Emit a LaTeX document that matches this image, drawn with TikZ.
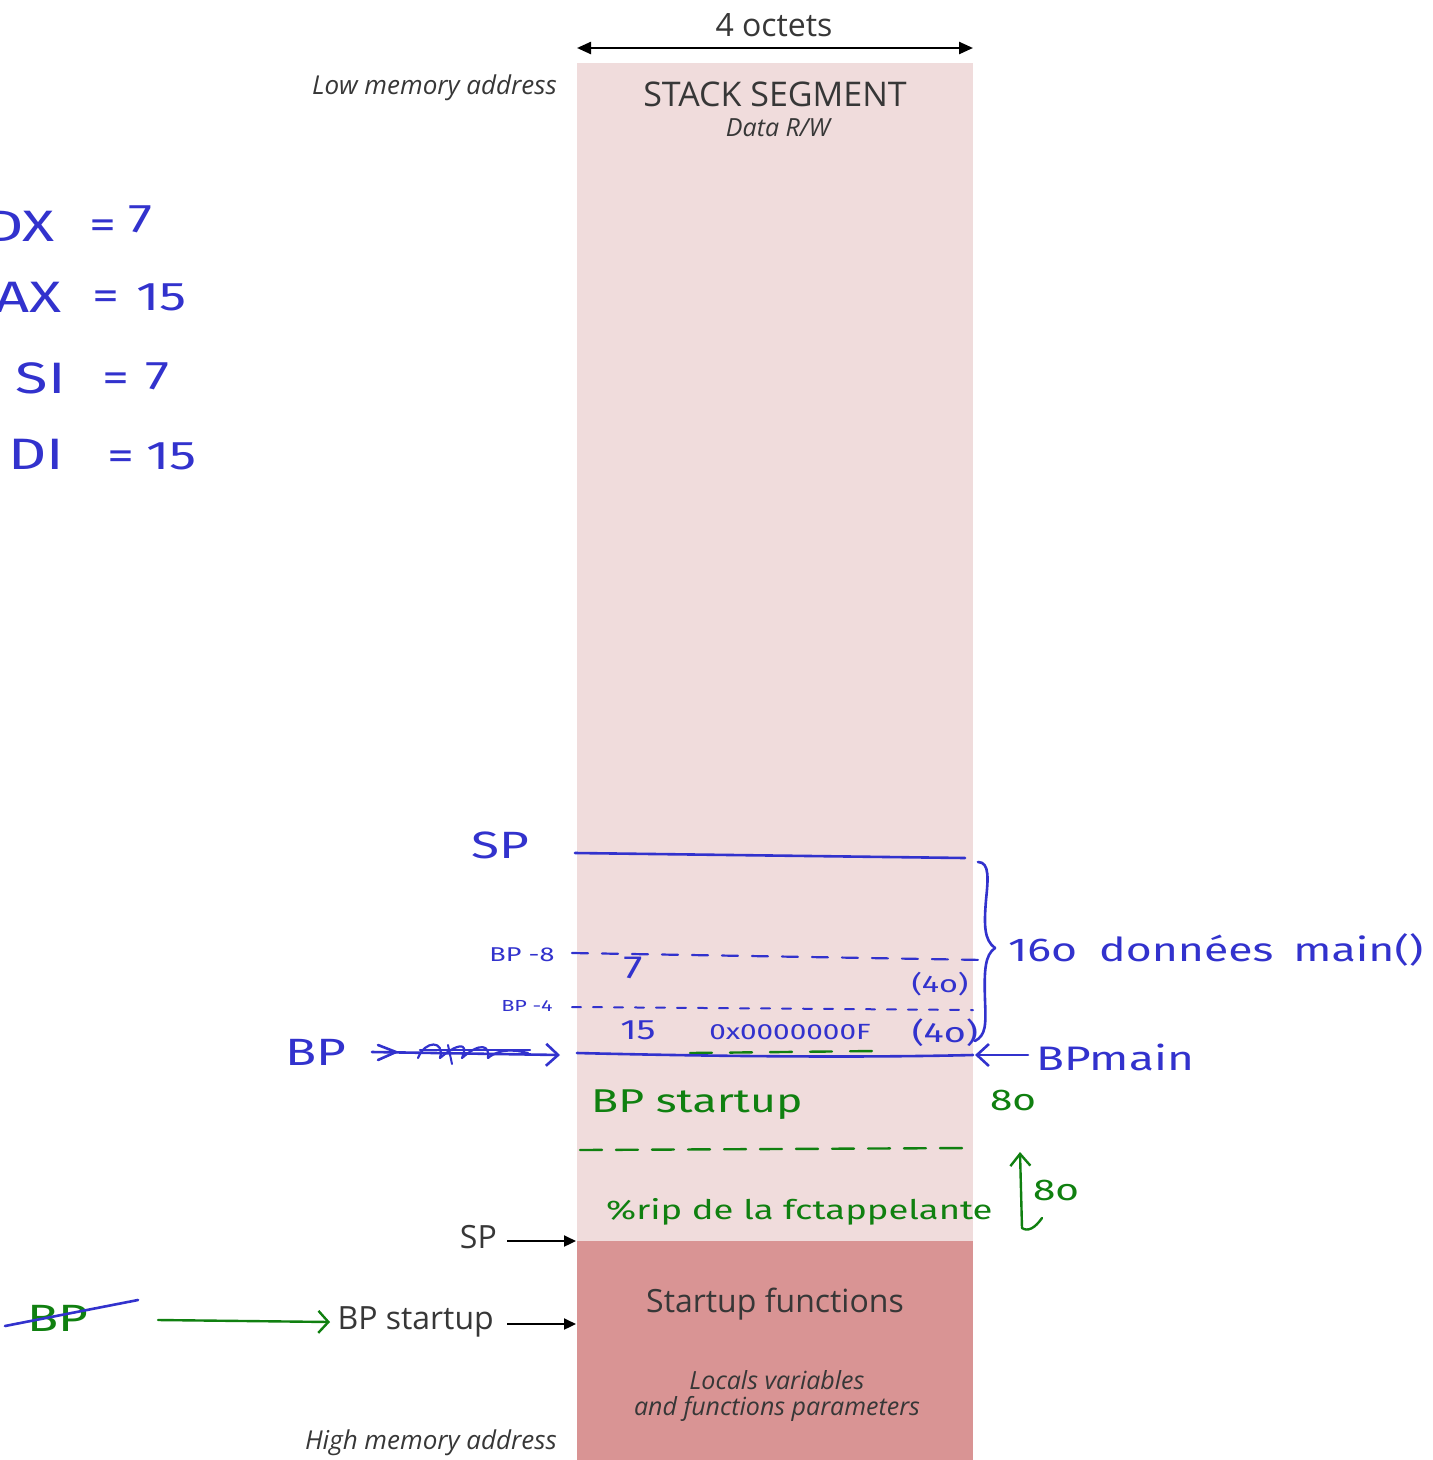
\documentclass[tikz,border=0pt]{standalone}
\usepackage{fontspec}
\setmainfont{Open Sans}
\newfontfamily\hand[FakeStretch=1.35]{Fira Sans}
\usetikzlibrary{arrows.meta}
\definecolor{stackpink}{RGB}{240,220,220}
\definecolor{startpink}{RGB}{217,148,148}
\definecolor{txtgray}{RGB}{55,55,55}
\definecolor{inkblue}{RGB}{50,50,205}
\definecolor{inkgreen}{RGB}{16,128,16}
\begin{document}
\begin{tikzpicture}[x=1pt,y=-1pt,
  prt/.style={text=txtgray, inner sep=0pt, font=\fontsize{#1pt}{#1pt}\selectfont},
  prti/.style={text=txtgray, inner sep=0pt, font=\fontsize{#1pt}{#1pt}\selectfont\itshape},
  hb/.style={text=inkblue, inner sep=0pt, font=\hand\fontsize{#1pt}{#1pt}\selectfont},
  hg/.style={text=inkgreen, inner sep=0pt, font=\hand\fontsize{#1pt}{#1pt}\selectfont},
  blk/.style={draw=black, line width=2.2pt, -{Triangle[length=12pt,width=11pt]}},
  inkb/.style={draw=inkblue, line width=2.6pt, line cap=round, line join=round},
  inkg/.style={draw=inkgreen, line width=2.4pt, line cap=round, line join=round},
]
\useasboundingbox (0,0) rectangle (1433,1460);
\fill[white] (0,0) rectangle (1433,1460);
\begin{scope}
\clip (0,0) rectangle (1433,1460);

% stack column
\fill[stackpink] (577,63) rectangle (973,1241);
\fill[startpink] (577,1241) rectangle (973,1460);

% top width arrow
\coordinate (wl) at (577,48);
\coordinate (wr) at (973,48);
\draw[line width=2.4pt, {Triangle[length=14pt,width=12pt]}-{Triangle[length=14pt,width=12pt]}] (wl) -- (wr);
\node[prt=32] (oct) at (774,25) {4 octets};

\node[prti=26, anchor=east] (low) at (557,88) {Low memory address};
\node[prt=34] (seg) at (775,94) {STACK SEGMENT};
\node[prti=25] (rw) at (778,128) {Data R/W};

\node[prt=32] (sfun) at (775,1304) {Startup functions};
\node[prti=25] (loc1) at (777,1380) {Locals variables};
\node[prti=25] (loc2) at (777,1409) {and functions parameters};
\node[prti=26, anchor=east] (high) at (557,1443) {High memory address};

% SP and BP startup printed arrows
\node[prt=32, anchor=east] (sp) at (497,1237) {SP};
\coordinate (spend) at (576,1241);
\draw[blk] (sp.east) ++(10,4) coordinate (sps) (sps) -- (spend);
\node[prt=32, anchor=east] (bps) at (494,1322) {BP startup};
\coordinate (bpsend) at (576,1324);
\draw[blk] (bps.east) ++(13,2) coordinate (bpss) (bpss) -- (bpsend);

% ---------------- handwritten registers (blue) -----------------
\node[hb=44, anchor=east] (r1) at (55,226) {DX};
\node[hb=40] (e1) at (103,229) {=};
\node[hb=40, anchor=west] (v1) at (128,219) {7};
\node[hb=44, anchor=east] (r2) at (62,297) {AX};
\node[hb=40] (e2) at (106,300) {=};
\node[hb=40, anchor=west] (v2) at (136,297) {15};
\node[hb=44, anchor=east] (r3) at (66,378) {SI};
\node[hb=40] (e3) at (116,382) {=};
\node[hb=40, anchor=west] (v3) at (145,376) {7};
\node[hb=44, anchor=east] (r4) at (64,454) {DI};
\node[hb=40] (e4) at (121,460) {=};
\node[hb=40, anchor=west] (v4) at (146,456) {15};

% SP line
\node[hb=38] (sph) at (500,845) {SP};
\coordinate (spl1) at (575,853);
\coordinate (spl2) at (965,858);
\draw[inkb] (spl1) -- (spl2);

% BP-8 dashed line
\node[hb=20] (bp8) at (522,955) {BP -8};
\coordinate (d8a) at (572,953);
\coordinate (d8b) at (985,960);
\draw[inkb, line width=2.2pt, dash pattern=on 16pt off 14pt] (d8a) -- (d8b);
\node[hb=32] (seven) at (633,968) {7};
\node[hb=24] (fo1) at (940,984) {(4o)};

% BP-4 dashed line
\node[hb=16] (bp4) at (527,1006) {BP -4};
\coordinate (d4a) at (572,1007);
\coordinate (d4b) at (973,1010);
\draw[inkb, line width=2pt, dash pattern=on 9pt off 12pt] (d4a) -- (d4b);
\node[hb=28] (fift) at (638,1030) {15};
\node[hb=22] (hex) at (790,1032) {0x0000000F};
\node[hb=28] (fo2) at (945,1033) {(4o)};

% BP line
\coordinate (bpl1) at (577,1053);
\coordinate (bpl2) at (973,1055);
\draw[inkg, dash pattern=on 22pt off 18pt] (690,1053) -- (875,1051);
\draw[inkb] (bpl1) .. controls (700,1056) and (850,1058) .. (bpl2);

% BP left with crossed-out arrow
\node[hb=38] (bpl) at (316,1052) {BP};
\coordinate (bpa1) at (372,1052);
\coordinate (bpa2) at (560,1055);
\draw[inkb, -{Straight Barb[length=12pt,width=22pt]}] (bpa1) -- (bpa2);
\draw[inkb] (378,1045) -- (396,1052) -- (378,1060);
\draw[inkb, line width=2.2pt] (418,1058) .. controls (425,1040) and (445,1040) .. (440,1058)
  .. controls (455,1045) and (470,1040) .. (462,1058) .. controls (480,1042) and (490,1045) .. (488,1058)
  .. controls (500,1048) and (515,1050) .. (528,1053);
\draw[inkb, line width=2.2pt] (420,1050) -- (530,1050);
\draw[inkb, line width=2pt] (448,1045) -- (452,1064);

% brace and 16o
\draw[inkb] (978,862) .. controls (990,862) and (988,880) .. (986,900)
  .. controls (984,925) and (984,940) .. (995,948)
  .. controls (985,955) and (984,970) .. (985,1000)
  .. controls (986,1025) and (986,1035) .. (975,1041);
\node[hb=33, anchor=west] (don) at (1008,950) {16o\hspace{22pt}données\hspace{20pt}main()};

% BP main arrow
\node[hb=34, anchor=west] (bpm) at (1036,1057) {BPmain};
\coordinate (bpmend) at (975,1055);
\draw[inkb, -{Straight Barb[length=12pt,width=22pt]}] (1028,1055) -- (bpmend);

% green annotations
\node[hg=33, anchor=west] (bpst) at (591,1105) {BP startup};
\node[hg=30] (eo1) at (1013,1100) {8o};
\coordinate (gd1) at (580,1150);
\coordinate (gd2) at (973,1148);
\draw[inkg, dash pattern=on 22pt off 14pt] (gd1) -- (gd2);
\node[hg=27, anchor=west] (rip) at (606,1212) {\%rip de la fctappelante};
\coordinate (ga1) at (1022,1228);
\coordinate (ga2) at (1020,1152);
\draw[inkg, -{Straight Barb[length=12pt,width=20pt]}] (ga1) -- (ga2);
\draw[inkg] (1022,1228) .. controls (1028,1232) and (1035,1228) .. (1042,1218);
\node[hg=30] (eo2) at (1056,1190) {8o};

% green BP crossed out
\node[hg=38] (gbp) at (58,1318) {BP};
\draw[inkb] (5,1326) -- (138,1300);
\coordinate (gar1) at (158,1320);
\coordinate (gar2) at (330,1322);
\draw[inkg, -{Straight Barb[length=10pt,width=22pt]}] (gar1) -- (gar2);

\end{scope}
\end{tikzpicture}
\end{document}
